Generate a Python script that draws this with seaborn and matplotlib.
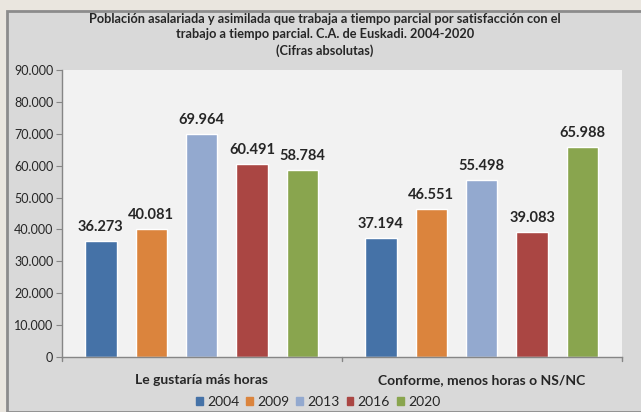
import matplotlib
matplotlib.use("Agg")
import matplotlib.pyplot as plt
import matplotlib.patches as mpatches
import seaborn as sns
import pandas as pd

categories = ["Le gustaría más horas", "Conforme, menos horas o NS/NC"]
years = ["2004", "2009", "2013", "2016", "2020"]
values_2004 = [36273, 37194]
values_2009 = [40081, 46551]
values_2013 = [69964, 55498]
values_2016 = [60491, 39083]
values_2020 = [58784, 65988]
colors = ["#4572A7", "#DB843D", "#93A9CF", "#AA4643", "#89A54E"]
yticks = list(range(0, 90001, 10000))
title = ("Población asalariada y asimilada que trabaja a tiempo parcial por satisfacción con el\n"
         "trabajo a tiempo parcial. C.A. de Euskadi. 2004-2020\n(Cifras absolutas)")

series = [values_2004, values_2009, values_2013, values_2016, values_2020]
rows = []
for y, vals in zip(years, series):
    for c, v in zip(categories, vals):
        rows.append({"cat": c, "year": y, "value": v})
df = pd.DataFrame(rows)

sns.set_style("white")
plt.rcParams["font.family"] = ["Lato", "DejaVu Sans"]

fig = plt.figure(figsize=(6.41, 4.12), dpi=100)
fig.patch.set_facecolor("#EAE6DF")
# chart area with border
fig.patches.append(mpatches.Rectangle((6.5 / 641, 0), 1.2, (412 - 11) / 412,
                                      transform=fig.transFigure, facecolor="#D9D9D9",
                                      edgecolor="#8C8C8C", linewidth=2, zorder=-10))

ax = fig.add_axes([61.7 / 641, (412 - 357) / 412, (621.7 - 61.7) / 641, (357 - 70) / 412])
ax.set_facecolor("#F2F2F2")
sns.barplot(data=df, x="cat", y="value", hue="year", order=categories, hue_order=years,
            palette=colors, width=0.9, gap=0.38, saturation=1, ax=ax, legend=False)

ax.set_ylim(0, 90000)
ax.set_xlim(-0.5, 1.5)
ax.set_yticks(yticks)
ax.set_yticklabels([f"{t:,}".replace(",", ".") for t in yticks], fontsize=9)
ax.set_xticks([0, 1])
ax.set_xticklabels(categories, fontsize=10, fontweight="bold")
ax.tick_params(axis="x", length=0, pad=12)
ax.tick_params(axis="y", length=4, color="#868686", left=True, pad=2)
for xb in [-0.5, 0.5, 1.5]:
    ax.plot([xb, xb], [0, -0.015], transform=ax.get_xaxis_transform(), color="#868686",
            lw=1, clip_on=False)
for s in ["top", "right"]:
    ax.spines[s].set_visible(False)
for s in ["left", "bottom"]:
    ax.spines[s].set_color("#868686")
    ax.spines[s].set_linewidth(1)
ax.set_xlabel("")
ax.set_ylabel("")

for cont in ax.containers:
    for bar in cont:
        h = bar.get_height()
        ax.annotate(f"{int(h):,}".replace(",", "."), (bar.get_x() + bar.get_width() / 2, h),
                    xytext=(0, 5), textcoords="offset points", ha="center", va="bottom",
                    fontsize=10.5, fontweight="bold")

fig.text(325 / 641, 1 - 13 / 412, title, ha="center", va="top", fontsize=9.2,
         fontweight="bold", linespacing=1.35)

handles = [mpatches.Patch(color=c, label=y) for c, y in zip(colors, years)]
fig.legend(handles=handles, loc="center", bbox_to_anchor=(318 / 641, 1 - 402 / 412), ncol=5,
           frameon=False, fontsize=10, handlelength=0.5, handleheight=0.5,
           handletextpad=0.3, columnspacing=0.5, borderpad=0)

fig.savefig("out.png", dpi=100, facecolor=fig.get_facecolor())
